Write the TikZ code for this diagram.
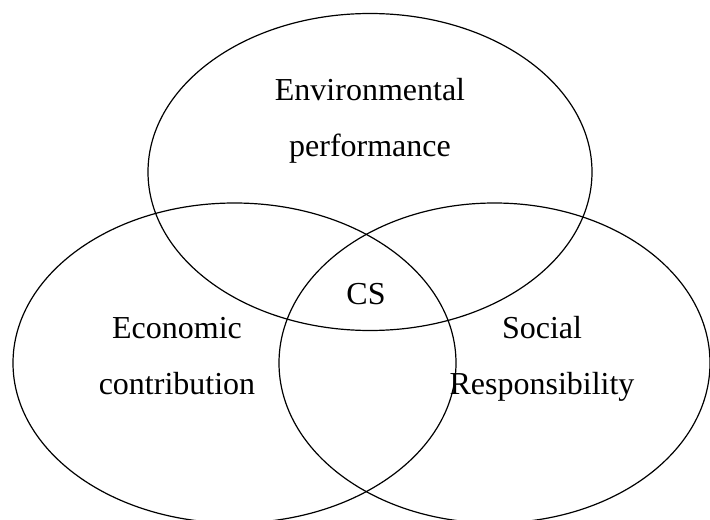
\documentclass[tikz,border=0pt]{standalone}
\usepackage{fontspec}
\setmainfont{Liberation Serif}
\usepackage{tikz}
\usetikzlibrary{positioning}
\usetikzlibrary{shapes.geometric}

\begin{document}
\begin{tikzpicture}[x=0.75pt,y=-0.75pt]
	\useasboundingbox (0,0) rectangle (710,520);

	\begin{scope}[every node/.style={ellipse,draw=black,line width=0.9pt,inner sep=0pt}]
	    \node (env) [minimum width=333pt,minimum height=237.75pt] at (370,172) {};
	    \node (eco) [minimum width=332.25pt,minimum height=240pt] at (234.5,363) {};
	    \node (soc) [minimum width=323.25pt,minimum height=240pt] at (494.5,363) {};
	\end{scope}

	\begin{scope}[every node/.style={align=center,inner sep=0pt,font=\fontsize{24}{42}\selectfont}]
	    \node (envtext) at (370,121) {Environmental\\performance};
	    \node (ecotext) at (177,356) {Economic\\contribution};
	    \node (soctext) at (542,359) {Social\\Responsibility};
	    \node (cs) [anchor=base] at (366,305) {CS};
	\end{scope}
\end{tikzpicture}
\end{document}
